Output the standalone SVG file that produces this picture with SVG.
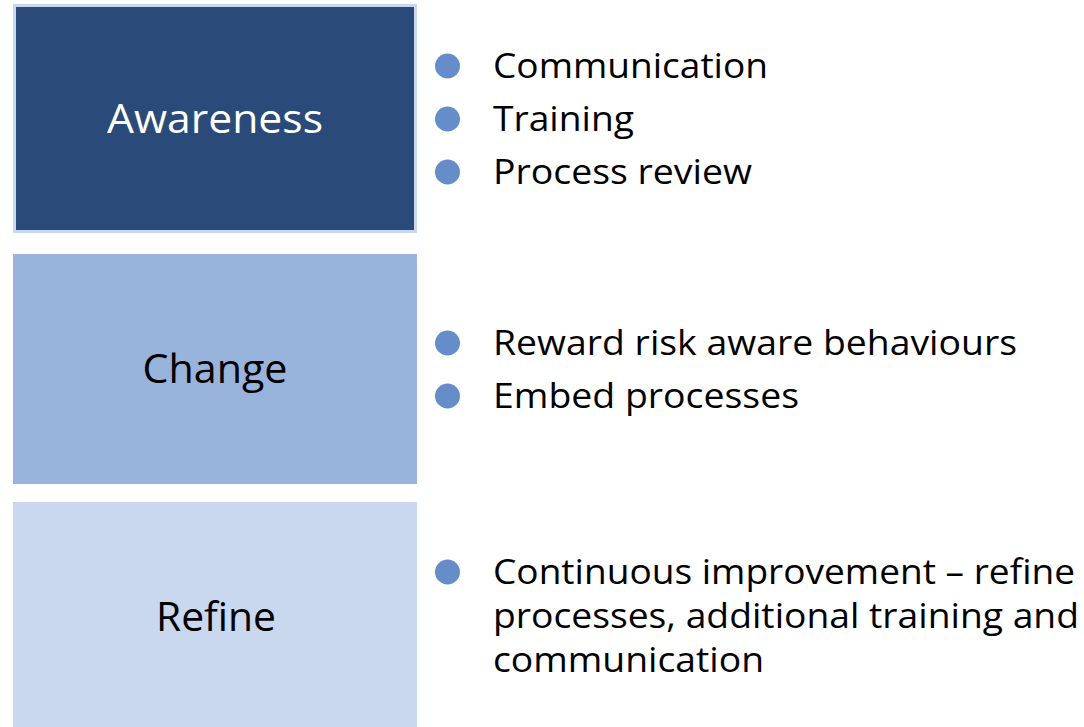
<svg xmlns="http://www.w3.org/2000/svg" width="1084" height="727" viewBox="0 0 1084 727">
<style>
.lbl{font-family:"Open Sans","Noto Sans",sans-serif;font-size:41px;text-anchor:middle}
.txt{font-family:"Open Sans","Noto Sans",sans-serif;font-size:34px;fill:#000}
.dot{fill:#658dca}
</style>
<rect width="1084" height="727" fill="#fff"/>
<g id="awareness">
<rect x="14.5" y="5.5" width="401" height="226" fill="#2a4a7a" stroke="#c9d8ee" stroke-width="3"/>
<text class="lbl" x="215" y="133" fill="#fff" textLength="216" lengthAdjust="spacingAndGlyphs">Awareness</text>
</g>
<g id="change">
<rect x="13" y="254" width="404" height="230" fill="#98b3dc"/>
<text class="lbl" x="215" y="383" fill="#000" textLength="145" lengthAdjust="spacingAndGlyphs">Change</text>
</g>
<g id="refine">
<rect x="13" y="502" width="404" height="225" fill="#c9d8ee"/>
<text class="lbl" x="216" y="631" fill="#000" textLength="120" lengthAdjust="spacingAndGlyphs">Refine</text>
</g>
<g id="awareness-items">
<circle class="dot" cx="447.5" cy="66" r="12.5"/>
<circle class="dot" cx="447.5" cy="119" r="12.5"/>
<circle class="dot" cx="447.5" cy="172" r="12.5"/>
<text class="txt" x="493" y="78" textLength="275" lengthAdjust="spacingAndGlyphs">Communication</text>
<text class="txt" x="493" y="131" textLength="141" lengthAdjust="spacingAndGlyphs">Training</text>
<text class="txt" x="493" y="184" textLength="259" lengthAdjust="spacingAndGlyphs">Process review</text>
</g>
<g id="change-items">
<circle class="dot" cx="447.5" cy="343" r="12.5"/>
<circle class="dot" cx="447.5" cy="396" r="12.5"/>
<text class="txt" x="493" y="355" textLength="524" lengthAdjust="spacingAndGlyphs">Reward risk aware behaviours</text>
<text class="txt" x="493" y="408" textLength="306" lengthAdjust="spacingAndGlyphs">Embed processes</text>
</g>
<g id="refine-items">
<circle class="dot" cx="447.5" cy="572" r="12.5"/>
<text class="txt" x="493" y="584" textLength="582" lengthAdjust="spacingAndGlyphs">Continuous improvement – refine</text>
<text class="txt" x="493" y="628" textLength="586" lengthAdjust="spacingAndGlyphs">processes, additional training and</text>
<text class="txt" x="493" y="672" textLength="271" lengthAdjust="spacingAndGlyphs">communication</text>
</g>
<g id="connectors"></g>
</svg>
